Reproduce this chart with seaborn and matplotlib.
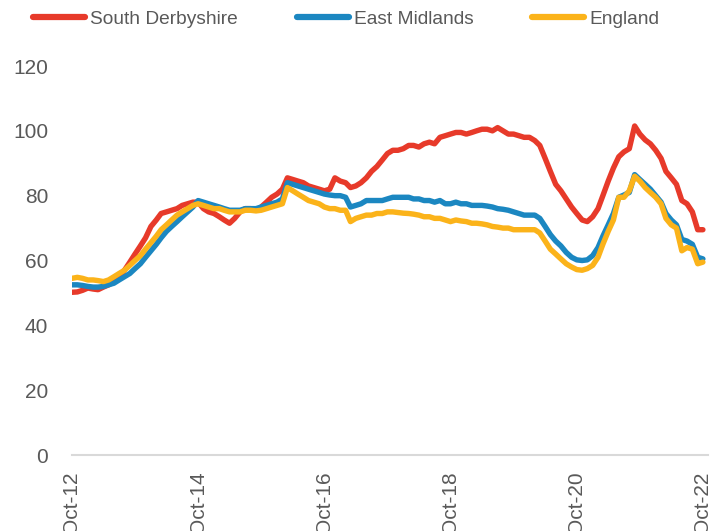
import numpy as np
import pandas as pd
import matplotlib
matplotlib.use('Agg')
import matplotlib.pyplot as plt
import matplotlib.dates as mdates
import seaborn as sns

# 月度数据 Oct-12 .. Oct-22 (121个点)
months = pd.date_range('2012-10-01', '2022-10-01', freq='MS')

south_derbyshire = [
    50.2, 50.3, 50.8, 51.5, 51.2, 51.0, 51.8, 52.5, 53.5, 55.0, 57.0, 59.5,
    62.0, 64.5, 67.0, 70.5, 72.5, 74.5, 75.0, 75.5, 76.0, 77.0, 77.5, 78.0,
    78.0, 76.0, 75.0, 74.5, 73.5, 72.5, 71.5, 73.0, 75.0, 76.0, 76.0, 75.5,
    76.5, 78.0, 79.5, 80.5, 82.0, 85.5, 85.0, 84.5, 84.0, 83.0, 82.5, 82.0,
    81.5, 82.0, 85.5, 84.5, 84.0, 82.5, 83.0, 84.0, 85.5, 87.5, 89.0, 91.0,
    93.0, 94.0, 94.0, 94.5, 95.5, 95.5, 95.0, 96.0, 96.5, 96.0, 98.0, 98.5,
    99.0, 99.5, 99.5, 99.0, 99.5, 100.0, 100.5, 100.5, 100.0, 101.0, 100.0, 99.0,
    99.0, 98.5, 98.0, 98.0, 97.0, 95.5, 91.5, 87.5, 83.5, 81.5, 79.0, 76.5,
    74.5, 72.5, 72.0, 73.5, 76.0, 80.0, 84.5, 88.5, 92.0, 93.5, 94.5, 101.5,
    99.0, 97.2, 96.0, 94.0, 91.5, 87.5, 85.5, 83.5, 78.5, 77.5, 75.0, 69.5,
    69.5,
]

east_midlands = [
    52.5, 52.5, 52.3, 52.0, 51.8, 51.8, 52.0, 52.5, 53.0, 54.0, 55.0, 56.0,
    57.5, 59.0, 61.0, 63.0, 65.0, 67.0, 69.0, 70.5, 72.0, 73.5, 75.0, 76.5,
    78.5, 78.0, 77.5, 77.0, 76.5, 76.0, 75.5, 75.5, 75.5, 76.0, 76.0, 76.0,
    76.5, 77.0, 77.5, 78.0, 79.0, 84.0, 83.5, 83.0, 82.5, 82.0, 81.5, 81.0,
    80.5, 80.2, 80.0, 80.0, 79.5, 76.5, 77.0, 77.5, 78.5, 78.5, 78.5, 78.5,
    79.0, 79.5, 79.5, 79.5, 79.5, 79.0, 79.0, 78.5, 78.5, 78.0, 78.5, 77.5,
    77.5, 78.0, 77.5, 77.5, 77.0, 77.0, 77.0, 76.8, 76.5, 76.0, 75.8, 75.5,
    75.0, 74.5, 74.0, 74.0, 74.0, 73.0, 70.5, 68.0, 66.0, 64.5, 62.5, 61.0,
    60.2, 60.0, 60.2, 61.5, 64.0, 67.5, 71.0, 74.5, 79.5, 80.2, 81.0, 86.5,
    85.0, 83.5, 82.0, 80.0, 78.0, 74.5, 72.5, 71.0, 66.5, 66.0, 65.0, 61.0,
    60.5,
]

england = [
    54.5, 54.8, 54.5, 54.0, 54.0, 53.8, 53.5, 54.0, 55.0, 56.0, 57.0, 58.5,
    60.0, 61.5, 63.5, 65.5, 67.5, 69.5, 71.0, 72.5, 74.0, 75.0, 76.0, 77.0,
    77.5, 77.0, 76.5, 76.0, 76.0, 75.5, 75.0, 75.0, 75.0, 75.5, 75.5, 75.3,
    75.5, 76.0, 76.5, 77.0, 77.5, 82.5, 81.5, 80.5, 79.5, 78.5, 78.0, 77.5,
    76.5, 76.0, 76.0, 75.5, 75.5, 72.0, 73.0, 73.5, 74.0, 74.0, 74.5, 74.5,
    75.0, 75.0, 74.8, 74.6, 74.5, 74.3, 74.0, 73.5, 73.5, 73.0, 73.0, 72.5,
    72.0, 72.5, 72.2, 72.0, 71.5, 71.5, 71.3, 71.0, 70.5, 70.3, 70.0, 70.0,
    69.5, 69.5, 69.5, 69.5, 69.5, 68.5, 66.0, 63.5, 62.0, 60.5, 59.0, 58.0,
    57.2, 57.0, 57.5, 58.5, 61.0, 65.0, 69.0, 72.5, 79.5, 79.5, 81.5, 86.0,
    84.5, 82.5, 81.0, 79.5, 77.5, 73.0, 71.0, 70.0, 63.0, 64.0, 63.5, 59.0,
    59.5,
]

series_names = ['South Derbyshire', 'East Midlands', 'England']
colors = ['#E73A2A', '#1B87C1', '#FBB31A']
y_ticks = [0, 20, 40, 60, 80, 100, 120]
x_ticks = pd.to_datetime(['2012-10-01', '2014-10-01', '2016-10-01',
                          '2018-10-01', '2020-10-01', '2022-10-01'])

df = pd.DataFrame({
    'month': months,
    'South Derbyshire': south_derbyshire,
    'East Midlands': east_midlands,
    'England': england,
}).melt(id_vars='month', var_name='area', value_name='value')

sns.set_style('white')
plt.rcParams['font.family'] = ['Liberation Sans', 'DejaVu Sans']
grey = '#595959'

fig = plt.figure(figsize=(7.24, 5.31), dpi=100)
ax = fig.add_axes([0.0994, 0.1431, 0.8786, 0.7326])

sns.lineplot(data=df, x='month', y='value', hue='area', hue_order=series_names,
             palette=dict(zip(series_names, colors)), linewidth=3.9,
             ax=ax, legend=False)

ax.set_ylim(0, 120)
ax.set_yticks(y_ticks)
ax.set_xlim(pd.Timestamp('2012-10-01'), pd.Timestamp('2022-10-31'))
ax.set_xticks(x_ticks)
ax.xaxis.set_major_formatter(mdates.DateFormatter('%b-%y'))
ax.set_xlabel('')
ax.set_ylabel('')

for s in ['top', 'right', 'left']:
    ax.spines[s].set_visible(False)
ax.spines['bottom'].set_color('#D9D9D9')
ax.spines['bottom'].set_linewidth(1.5)

ax.tick_params(axis='y', length=0, pad=17, labelsize=15, labelcolor=grey)
ax.tick_params(axis='x', length=6, width=1.5, color='#D9D9D9', pad=6,
               labelsize=15, labelcolor=grey, labelrotation=90)

# 图例: 三项分别放置
legend_x = [33, 297, 532]
for name, c, x0 in zip(series_names, colors, legend_x):
    h = plt.Line2D([], [], color=c, lw=4.5, solid_capstyle='round')
    leg = fig.legend([h], [name], loc='center left',
                     bbox_to_anchor=(x0 / 724, 1 - 19 / 531), frameon=False,
                     fontsize=13.8, handlelength=2.7, handletextpad=0.3,
                     borderpad=0, borderaxespad=0)
    for t in leg.get_texts():
        t.set_color(grey)

fig.savefig('out.png', dpi=100)
